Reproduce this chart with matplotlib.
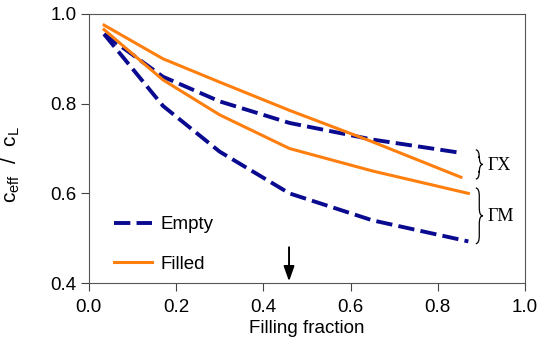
import matplotlib

matplotlib.use("Agg")
import matplotlib.pyplot as plt
from matplotlib.path import Path
from matplotlib.patches import PathPatch

plt.rcParams["font.family"] = ["Liberation Sans", "DejaVu Sans"]
plt.rcParams["mathtext.fontset"] = "custom"
plt.rcParams["mathtext.rm"] = "Liberation Sans"

# Filling fraction vs normalised effective speed
empty_gx_x = [0.035, 0.17, 0.30, 0.46, 0.65, 0.855]
empty_gx_y = [0.955, 0.86, 0.805, 0.757, 0.72, 0.69]
empty_gm_x = [0.035, 0.17, 0.30, 0.46, 0.65, 0.87]
empty_gm_y = [0.955, 0.795, 0.693, 0.60, 0.54, 0.493]
filled_gx_x = [0.035, 0.17, 0.30, 0.46, 0.65, 0.853]
filled_gx_y = [0.975, 0.90, 0.848, 0.785, 0.715, 0.636]
filled_gm_x = [0.035, 0.17, 0.30, 0.46, 0.65, 0.87]
filled_gm_y = [0.965, 0.853, 0.775, 0.70, 0.65, 0.60]

BLUE = "#0a0a90"
ORANGE = "#ff7f0e"
FS = 13.5


def brace(ax, x0, y_top, y_bot, w=0.016, d=0.018):
    xm, xt, yc = x0 + w / 2, x0 + w, (y_top + y_bot) / 2
    verts = [(x0, y_top), (xm, y_top), (xm, y_top - d), (xm, yc + d),
             (xm, yc), (xt, yc), (xm, yc), (xm, yc - d), (xm, y_bot + d),
             (xm, y_bot), (x0, y_bot)]
    codes = [Path.MOVETO, Path.CURVE3, Path.CURVE3, Path.LINETO,
             Path.CURVE3, Path.CURVE3, Path.CURVE3, Path.CURVE3, Path.LINETO,
             Path.CURVE3, Path.CURVE3]
    ax.add_patch(PathPatch(Path(verts, codes), fill=False, lw=0.9,
                           color="black", clip_on=False))


fig = plt.figure(figsize=(5.38, 3.47), dpi=100)
ax = fig.add_axes([0.165, 0.184, 0.811, 0.776])

dash = (4.2, 1.6)
ax.plot(empty_gx_x, empty_gx_y, color=BLUE, lw=2.8, dashes=dash)
ax.plot(empty_gm_x, empty_gm_y, color=BLUE, lw=2.8, dashes=dash, label="Empty")
ax.plot(filled_gx_x, filled_gx_y, color=ORANGE, lw=2.2)
ax.plot(filled_gm_x, filled_gm_y, color=ORANGE, lw=2.2, label="Filled")

brace(ax, 0.887, 0.697, 0.632)
brace(ax, 0.887, 0.612, 0.488)
ax.text(0.915, 0.662, "ΓX", family="Liberation Serif", fontsize=13, va="center")
ax.text(0.915, 0.548, "ΓM", family="Liberation Serif", fontsize=13, va="center")

ax.annotate("", xy=(0.459, 0.404), xytext=(0.459, 0.48),
            arrowprops=dict(arrowstyle="-|>,head_length=0.9,head_width=0.32",
                            color="black", lw=1.4, shrinkA=0, shrinkB=0))

ax.set_xlim(0, 1.0)
ax.set_ylim(0.4, 1.0)
ax.set_xticks([0.0, 0.2, 0.4, 0.6, 0.8, 1.0])
ax.set_yticks([0.4, 0.6, 0.8, 1.0])
ax.tick_params(labelsize=FS, length=5.5, color="#444444", direction="out")
ax.tick_params(axis="x", pad=6)
ax.tick_params(axis="y", pad=3.5)
for s in ax.spines.values():
    s.set_color("#555555")
ax.set_xlabel("Filling fraction", fontsize=FS, labelpad=3)
ax.set_ylabel(r"c$_{\mathrm{eff}}$  /  c$_{\mathrm{L}}$", fontsize=15)
ax.yaxis.set_label_coords(-0.152, 0.44)

ax.legend(loc="lower left", frameon=False, fontsize=FS, handlelength=2.0,
          handletextpad=0.45, labelspacing=1.2, bbox_to_anchor=(0.02, -0.025))

fig.savefig("out.png", dpi=100)
